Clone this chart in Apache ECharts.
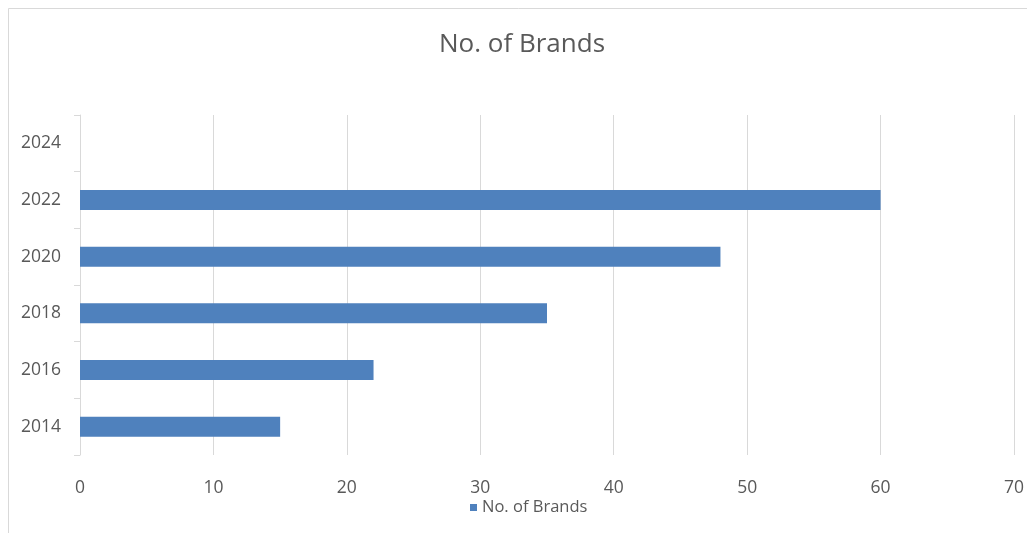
<!DOCTYPE html>
<html>
<head>
<meta charset="utf-8">
<script src="https://cdn.jsdelivr.net/npm/echarts@6/dist/echarts.min.js"></script>
<style>html,body{margin:0;padding:0;background:#fff;}#c{width:1027px;height:533px;}</style>
</head>
<body>
<div id="c"></div>
<script>
const categories = ['2014', '2016', '2018', '2020', '2022', '2024'];
const brandCounts = [15, 22, 35, 48, 60, null];
const seriesName = 'No. of Brands';
const titleText = 'No. of Brands';

const chart = echarts.init(document.getElementById('c'), null, {renderer: 'canvas'});
const font = '"Open Sans", "Noto Sans", sans-serif';
chart.setOption({
  animation: false,
  backgroundColor: '#fff',
  graphic: [{
    type: 'rect',
    shape: {x: 8.5, y: 8.5, width: 1100, height: 600},
    style: {fill: 'none', stroke: '#d9d9d9', lineWidth: 1}, silent: true
  }],
  title: {
    text: titleText, left: 439, top: 32, padding: 0,
    textStyle: {fontFamily: font, fontSize: 26, fontWeight: 'normal', color: '#595959'}
  },
  legend: {
    data: [seriesName], bottom: 12, left: 465,
    icon: 'rect', itemWidth: 7, itemHeight: 7, itemGap: 6,
    textStyle: {fontFamily: font, fontSize: 16.5, color: '#595959'}
  },
  grid: {left: 80, right: 12.5, top: 115, bottom: 78, containLabel: false},
  xAxis: {
    type: 'value', min: 0, max: 70, interval: 10,
    axisLine: {show: false}, axisTick: {show: false},
    splitLine: {lineStyle: {color: '#d9d9d9', width: 1}},
    axisLabel: {fontFamily: font, fontSize: 17.5, color: '#595959', margin: 24}
  },
  yAxis: {
    type: 'category', data: categories,
    axisLine: {show: true, lineStyle: {color: '#d9d9d9'}},
    axisTick: {show: true, length: 6, lineStyle: {color: '#d9d9d9'}},
    axisLabel: {fontFamily: font, fontSize: 17.5, color: '#595959', margin: 19}
  },
  series: [{
    name: seriesName, type: 'bar', data: brandCounts,
    barWidth: 20, itemStyle: {color: '#4f81bd'}
  }]
});
</script>
</body>
</html>
